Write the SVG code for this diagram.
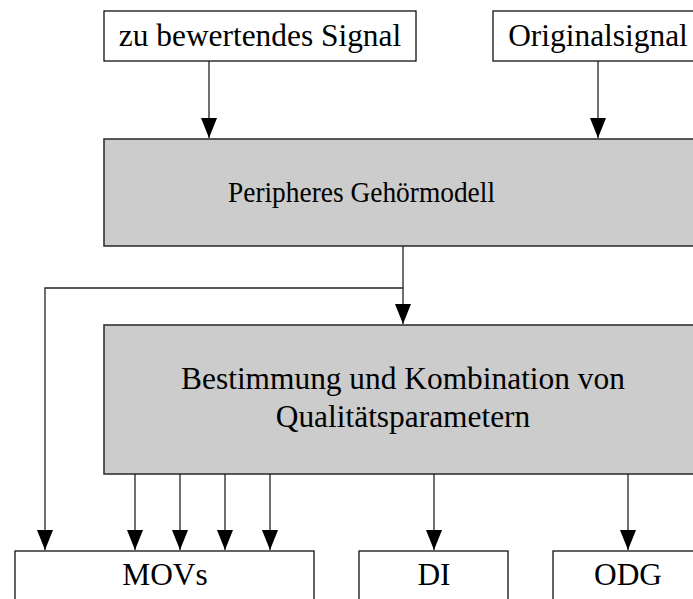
<svg xmlns="http://www.w3.org/2000/svg" width="693" height="599" viewBox="0 0 693 599">
<style>
.box{fill:#ffffff;stroke:#111;stroke-width:1.3}
.grey{fill:#cccccc;stroke:#333;stroke-width:1.6}
.t{font-family:"Liberation Serif","Times New Roman",serif;font-size:31.4px;fill:#000;text-anchor:middle}
.s{font-size:29.5px}
.c{fill:none;stroke:#222;stroke-width:1.3}
</style>
<defs>
<marker id="ah" viewBox="0 0 20 16" refX="20" refY="8" markerWidth="20" markerHeight="16" markerUnits="userSpaceOnUse" orient="auto">
<path d="M0,0 L20,8 L0,16 Z" fill="#000"/>
</marker>
</defs>
<g id="n-signal"><rect class="box" x="104" y="11" width="312" height="50"/><text class="t" x="260" y="46">zu bewertendes Signal</text></g>
<g id="n-orig"><rect class="box" x="493" y="11" width="220" height="50"/><text class="t" x="598" y="46">Originalsignal</text></g>
<g id="n-peri"><rect class="grey" x="104" y="139" width="620" height="107"/><text class="t s" x="361.5" y="202" textLength="267" lengthAdjust="spacingAndGlyphs">Peripheres Gehörmodell</text></g>
<g id="n-best"><rect class="grey" x="104" y="325" width="620" height="149"/><text class="t" x="403" y="389">Bestimmung und Kombination von</text><text class="t" x="403" y="427">Qualitätsparametern</text></g>
<g id="n-movs"><rect class="box" x="15" y="551" width="299" height="60"/><text class="t" x="165" y="585">MOVs</text></g>
<g id="n-di"><rect class="box" x="359" y="551" width="149" height="60"/><text class="t" x="434" y="585">DI</text></g>
<g id="n-odg"><rect class="box" x="553" y="551" width="160" height="60"/><text class="t" x="628" y="585">ODG</text></g>
<g id="connectors">
<path class="c" d="M209,61 V138" marker-end="url(#ah)"/>
<path class="c" d="M598,61 V138" marker-end="url(#ah)"/>
<path class="c" d="M403,246 V324" marker-end="url(#ah)"/>
<path class="c" d="M403,288 H45 V550" marker-end="url(#ah)"/>
<path class="c" d="M135,474 V550" marker-end="url(#ah)"/>
<path class="c" d="M180,474 V550" marker-end="url(#ah)"/>
<path class="c" d="M225,474 V550" marker-end="url(#ah)"/>
<path class="c" d="M270,474 V550" marker-end="url(#ah)"/>
<path class="c" d="M434,474 V550" marker-end="url(#ah)"/>
<path class="c" d="M628,474 V550" marker-end="url(#ah)"/>
</g>
</svg>
